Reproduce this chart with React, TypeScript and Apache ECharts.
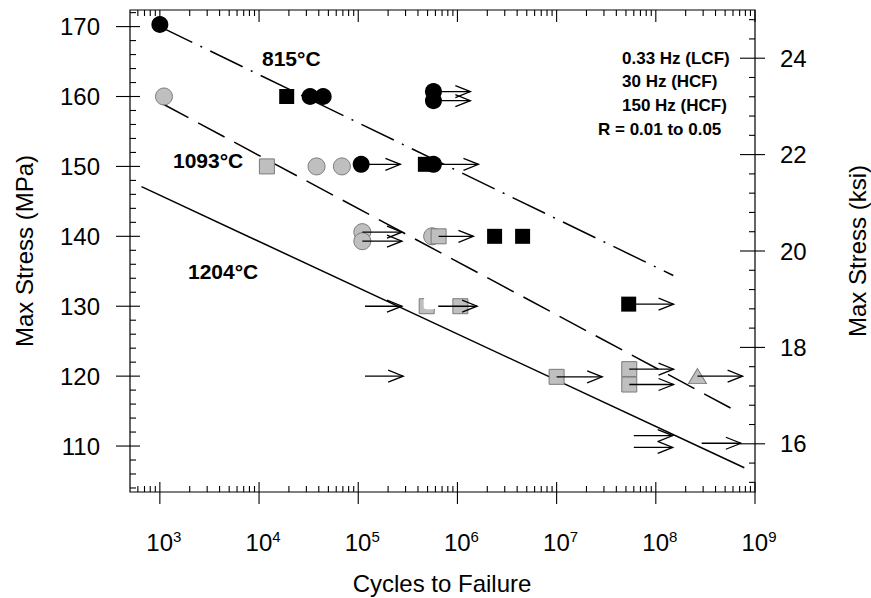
import React, { useEffect, useRef } from 'react';
import * as echarts from 'echarts';

const FONT = '"Liberation Sans", Arial, Helvetica, sans-serif';
const KSI_TO_MPA = 6.895;
const X_MIN = 500;
const X_MAX = 1e9;
const KSI_MIN = 15;
const KSI_MAX = 25;
const Y_MIN = KSI_MIN * KSI_TO_MPA;
const Y_MAX = KSI_MAX * KSI_TO_MPA;

// ---- data (cycles, MPa) ----
const blackCircles = [
  [1000, 170.3], [32700, 160], [44300, 160], [573000, 160.7], [573000, 159.4],
  [107000, 150.3], [573000, 150.3],
];
const blackSquares = [[19000, 160], [475000, 150.3], [2.37e6, 140], [4.54e6, 140], [5.33e7, 130.3]];
const grayCircles = [[1100, 160], [38000, 150], [68400, 150], [110000, 140.6], [110000, 139.3], [556000, 140]];
const graySquares = [[12000, 150], [646000, 140], [1.07e6, 130], [1.0e7, 119.9], [5.4e7, 121.0], [5.4e7, 118.8]];
const grayTriangles = [[2.63e8, 120.0]];
const partialSquares = [[4.9e5, 130]];
// runouts: [start cycles, end cycles, MPa]
const runoutArrows = [
  [573000, 1.35e6, 160.7], [573000, 1.35e6, 159.4],
  [107000, 2.66e5, 150.3],
  [573000, 1.63e6, 150.3],
  [110000, 2.76e5, 140.6], [110000, 2.76e5, 139.3],
  [646000, 1.45e6, 140],
  [1.17e5, 2.76e5, 130],
  [6.4e5, 1.58e6, 130],
  [5.33e7, 1.51e8, 130.3],
  [1.17e5, 2.84e5, 120],
  [1.0e7, 2.88e7, 119.9],
  [5.4e7, 1.51e8, 121.0], [5.4e7, 1.51e8, 118.8],
  [2.63e8, 7.5e8, 120.0],
  [6.0e7, 1.48e8, 111.5], [6.0e7, 1.48e8, 109.8],
  [2.9e8, 7.2e8, 110.4],
];
const fit815 = [[1000, 170], [1.5e8, 134.4]];
const fit1093 = [[1050, 159.0], [6.9e8, 114.8]];
const fit1204 = [[653, 147.1], [7.8e8, 106.9]];

// ---- axis ticks / labels ----
const X_MAJOR_TICKS = [1e3, 1e4, 1e5, 1e6, 1e7, 1e8, 1e9];
const X_EXPONENTS = ['3', '4', '5', '6', '7', '8', '9'];
const X_MINOR_MULT = [2, 3, 4, 5, 6, 7, 8, 9];
const X_DECADES = [1e2, 1e3, 1e4, 1e5, 1e6, 1e7, 1e8];
const Y_MAJOR_TICKS = [110, 120, 130, 140, 150, 160, 170];
const Y_LABELS = ['110', '120', '130', '140', '150', '160', '170'];
const Y_MINOR_STEP = 2;
const KSI_MAJOR_TICKS = [16, 18, 20, 22, 24];
const KSI_LABELS = ['16', '18', '20', '22', '24'];
const KSI_MINOR_STEP = 0.4;

const xMinorTicks: number[] = [];
X_DECADES.forEach((d) => X_MINOR_MULT.forEach((m) => {
  const v = m * d;
  if (v > X_MIN && v < X_MAX) xMinorTicks.push(v);
}));
const yMinorTicks: number[] = [];
for (let v = 104; v <= 172; v += Y_MINOR_STEP) if (v % 10 !== 0) yMinorTicks.push(v);
const ksiMinorTicks: number[] = [];
for (let i = 38; i <= 62; i++) {
  const v = +(i * KSI_MINOR_STEP).toFixed(1);
  if (v > KSI_MIN && v < KSI_MAX && Math.abs(v / 2 - Math.round(v / 2)) > 1e-6) ksiMinorTicks.push(v);
}

function tickSeries(data: number[][], d0: [number, number], d1: [number, number]) {
  return {
    type: 'custom',
    silent: true,
    clip: false,
    z: 6,
    data,
    renderItem: (_p: any, api: any) => {
      const p = api.coord([api.value(0), api.value(1)]);
      return {
        type: 'line',
        shape: { x1: p[0] + d0[0], y1: p[1] + d0[1], x2: p[0] + d1[0], y2: p[1] + d1[1] },
        style: { stroke: '#000', lineWidth: 1.1 },
      };
    },
  };
}

function textEl(x: number, y: number, text: string, size: number, align: string, bold = false, rotation = 0) {
  return {
    type: 'text',
    x, y, rotation,
    style: {
      text, fill: '#000', fontSize: size, fontFamily: FONT, fontWeight: bold ? 'bold' : 'normal',
      align, verticalAlign: 'middle', textAlign: align, textVerticalAlign: 'middle',
    },
  };
}

function buildOption() {
  const gray = { color: '#bfbfbf', borderColor: '#7a7a7a', borderWidth: 1, opacity: 1 };
  const black = { color: '#000', opacity: 1 };
  const axisOff = { axisLine: { show: false }, axisTick: { show: false }, axisLabel: { show: false }, splitLine: { show: false } };
  return {
    animation: false,
    backgroundColor: '#fff',
    grid: { left: 130, right: 116, top: 10, bottom: 106, show: true, borderColor: '#000', borderWidth: 1.2 },
    xAxis: { type: 'log', logBase: 10, min: X_MIN, max: X_MAX, ...axisOff },
    yAxis: { type: 'value', min: Y_MIN, max: Y_MAX, ...axisOff },
    graphic: [
      textEl(24, 251, 'Max Stress (MPa)', 24, 'center', false, Math.PI / 2),
      textEl(857, 251, 'Max Stress (ksi)', 24, 'center', false, Math.PI / 2),
      textEl(442, 583, 'Cycles to Failure', 24, 'center'),
      textEl(262, 58, '815°C', 21, 'left', true),
      textEl(173, 160, '1093°C', 21, 'left', true),
      textEl(188, 271, '1204°C', 21, 'left', true),
      textEl(622, 58, '0.33 Hz (LCF)', 17, 'left', true),
      textEl(622, 81, '30 Hz (HCF)', 17, 'left', true),
      textEl(622, 105, '150 Hz (HCF)', 17, 'left', true),
      textEl(598, 129, 'R = 0.01 to 0.05', 17, 'left', true),
    ],
    series: [
      { type: 'line', data: fit1204, showSymbol: false, symbol: 'none', z: 2, lineStyle: { color: '#000', width: 1.5, type: 'solid' } },
      { type: 'line', data: fit1093, showSymbol: false, symbol: 'none', z: 2, lineStyle: { color: '#000', width: 1.5, type: [30, 11] } },
      { type: 'line', data: fit815, showSymbol: false, symbol: 'none', z: 2, lineStyle: { color: '#000', width: 1.5, type: [36, 9, 2, 9] } },
      { type: 'scatter', data: grayCircles, symbol: 'circle', symbolSize: 17, itemStyle: gray, z: 3 },
      { type: 'scatter', data: graySquares, symbol: 'rect', symbolSize: 15, itemStyle: gray, z: 3 },
      { type: 'scatter', data: partialSquares, symbol: 'rect', symbolSize: 15, itemStyle: gray, z: 3 },
      { type: 'scatter', data: partialSquares, symbol: 'roundRect', symbolSize: 12, symbolOffset: [3, -3], itemStyle: { color: '#fff', opacity: 1 }, z: 3 },
      { type: 'scatter', data: grayTriangles, symbol: 'triangle', symbolSize: [18, 15], itemStyle: gray, z: 3 },
      { type: 'scatter', data: blackCircles, symbol: 'circle', symbolSize: 17, itemStyle: black, z: 3 },
      { type: 'scatter', data: blackSquares, symbol: 'rect', symbolSize: 15, itemStyle: black, z: 3 },
      {
        type: 'custom', silent: true, clip: false, z: 4,
        data: runoutArrows,
        encode: { x: [0, 1], y: 2 },
        renderItem: (_p: any, api: any) => {
          const y = api.value(2);
          const a = api.coord([api.value(0), y]);
          const b = api.coord([api.value(1), y]);
          return {
            type: 'group',
            children: [
              { type: 'line', shape: { x1: a[0], y1: a[1], x2: b[0], y2: b[1] }, style: { stroke: '#000', lineWidth: 1.3 } },
              { type: 'polyline', shape: { points: [[b[0] - 15, b[1] - 6], [b[0], b[1]], [b[0] - 15, b[1] + 6]] }, style: { stroke: '#000', fill: 'none', lineWidth: 1.3 } },
            ],
          };
        },
      },
      // bottom axis ticks
      tickSeries(X_MAJOR_TICKS.map((v) => [v, Y_MIN]), [0, 12], [0, -10]),
      tickSeries(xMinorTicks.map((v) => [v, Y_MIN]), [0, 0], [0, -6]),
      // top axis ticks
      tickSeries(X_MAJOR_TICKS.map((v) => [v, Y_MAX]), [0, 0], [0, 12]),
      tickSeries(xMinorTicks.map((v) => [v, Y_MAX]), [0, 0], [0, 6]),
      // left axis ticks
      tickSeries(Y_MAJOR_TICKS.map((v) => [X_MIN, v]), [-14, 0], [10, 0]),
      tickSeries(yMinorTicks.map((v) => [X_MIN, v]), [0, 0], [6, 0]),
      // right axis ticks (ksi)
      tickSeries(KSI_MAJOR_TICKS.map((v) => [X_MAX, v * KSI_TO_MPA]), [-15, 0], [10, 0]),
      tickSeries(ksiMinorTicks.map((v) => [X_MAX, v * KSI_TO_MPA]), [-6, 0], [0, 0]),
      // x labels
      {
        type: 'custom', silent: true, clip: false, z: 6,
        data: X_MAJOR_TICKS.map((v) => [v, Y_MIN]),
        renderItem: (p: any, api: any) => {
          const c = api.coord([api.value(0), api.value(1)]);
          return {
            type: 'text', x: c[0] + 4, y: c[1] + 50,
            style: {
              text: `{b|10}{s|${X_EXPONENTS[p.dataIndex]}}`,
              rich: {
                b: { fontSize: 24, fontFamily: FONT, lineHeight: 26, fill: '#000' },
                s: { fontSize: 15, fontFamily: FONT, lineHeight: 15, verticalAlign: 'top', fill: '#000' },
              },
              fill: '#000', fontSize: 24, fontFamily: FONT,
              align: 'center', verticalAlign: 'middle', textAlign: 'center', textVerticalAlign: 'middle',
            },
          };
        },
      },
      // left labels
      {
        type: 'custom', silent: true, clip: false, z: 6,
        data: Y_MAJOR_TICKS.map((v) => [X_MIN, v]),
        renderItem: (p: any, api: any) => {
          const c = api.coord([api.value(0), api.value(1)]);
          return {
            type: 'text', x: c[0] - 30, y: c[1],
            style: {
              text: Y_LABELS[p.dataIndex], fill: '#000', fontSize: 24, fontFamily: FONT,
              align: 'right', verticalAlign: 'middle', textAlign: 'right', textVerticalAlign: 'middle',
            },
          };
        },
      },
      // right labels (ksi)
      {
        type: 'custom', silent: true, clip: false, z: 6,
        data: KSI_MAJOR_TICKS.map((v) => [X_MAX, v * KSI_TO_MPA]),
        renderItem: (p: any, api: any) => {
          const c = api.coord([api.value(0), api.value(1)]);
          return {
            type: 'text', x: c[0] + 25, y: c[1],
            style: {
              text: KSI_LABELS[p.dataIndex], fill: '#000', fontSize: 24, fontFamily: FONT,
              align: 'left', verticalAlign: 'middle', textAlign: 'left', textVerticalAlign: 'middle',
            },
          };
        },
      },
    ],
  };
}

export default function App() {
  const ref = useRef<HTMLDivElement>(null);
  useEffect(() => {
    document.body.style.margin = '0';
    const chart = echarts.init(ref.current as HTMLDivElement, undefined, { renderer: 'svg' });
    chart.setOption(buildOption() as any);
    return () => chart.dispose();
  }, []);
  return <div ref={ref} style={{ width: 871, height: 598, background: '#fff' }} />;
}
